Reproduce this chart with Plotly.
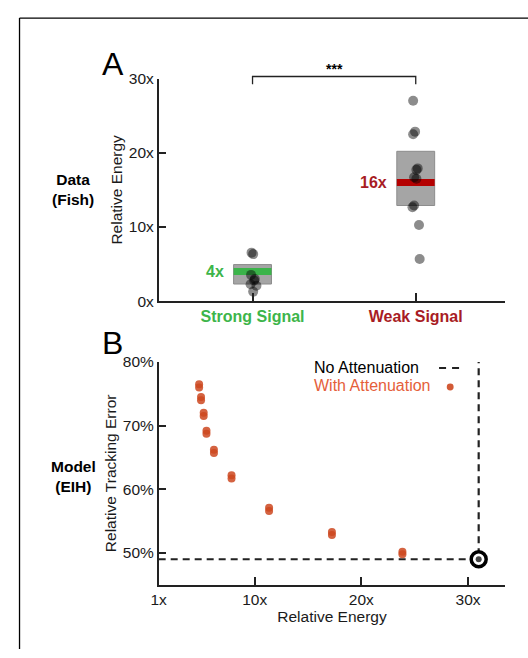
import plotly.graph_objects as go

# ---------------- Panel A: measured energy in fish ----------------
conditions = ["Strong Signal", "Weak Signal"]
condition_colors = ["#3db54a", "#a81c24"]
bar_colors = ["#3bb44a", "#b40000"]

strong_energy = [6.55, 6.35, 3.55, 3.0, 2.8, 2.3, 2.1, 1.3]
strong_jitter = [-0.006, 0.004, -0.009, 0.014, 0.010, -0.012, 0.024, 0.004]
weak_energy = [27.0, 22.85, 22.5, 17.9, 17.7, 16.7, 16.5, 12.9, 12.67, 10.27, 5.68]
weak_jitter = [-0.016, -0.004, -0.016, 0.012, 0.004, -0.010, 0.004, -0.010, -0.020, 0.020, 0.024]

box_low = [2.32, 12.9]
box_high = [4.94, 20.2]
typical_energy = [4, 16]
energy_ticks = [0, 10, 20, 30]

# ---------------- Panel B: model tracking error ----------------
model_energy = [4.79, 4.97, 5.22, 5.48, 6.18, 7.83, 11.35, 17.24, 23.85]
model_error_a = [76.5, 74.5, 72.0, 69.2, 66.2, 62.2, 57.1, 53.3, 50.2]
model_error_b = [76.0, 74.0, 71.5, 68.7, 65.7, 61.7, 56.6, 52.8, 49.8]
no_atten_energy = 31.0
no_atten_error = 49.0
error_ticks = [50, 60, 70, 80]
model_energy_ticks = [1, 10, 20, 30]

W, H = 528, 658
FONT = "Liberation Sans, Arial, Helvetica, sans-serif"
INK = "#222222"
ORANGE = "rgb(205,72,32)"


def px(x):
    return x / W


def py(y):
    return 1 - y / H


fig = go.Figure()

# --- Panel A traces ---
strong_x = [0 + j for j in strong_jitter]
weak_x = [1 + j for j in weak_jitter]
fig.add_trace(go.Scatter(
    x=strong_x + weak_x, y=strong_energy + weak_energy, mode="markers",
    marker=dict(size=10, color="rgba(0,0,0,0.45)", line=dict(width=0)),
    xaxis="x", yaxis="y", showlegend=False, hoverinfo="y"))

# --- Panel B traces ---
fig.add_trace(go.Scatter(
    x=[model_energy_ticks[0], no_atten_energy, no_atten_energy],
    y=[no_atten_error, no_atten_error, 80],
    mode="lines", line=dict(color=INK, width=2.2, dash="7px,5px"),
    xaxis="x2", yaxis="y2", showlegend=False, hoverinfo="skip"))
for errs in (model_error_a, model_error_b):
    fig.add_trace(go.Scatter(
        x=model_energy, y=errs, mode="markers",
        marker=dict(size=8, color=ORANGE, opacity=0.85, line=dict(width=0)),
        xaxis="x2", yaxis="y2", showlegend=False))
fig.add_trace(go.Scatter(
    x=[no_atten_energy], y=[no_atten_error], mode="markers",
    marker=dict(size=15, color="white", line=dict(color="black", width=3.5)),
    xaxis="x2", yaxis="y2", showlegend=False))
fig.add_trace(go.Scatter(
    x=[no_atten_energy], y=[no_atten_error], mode="markers",
    marker=dict(size=6, color="#444444"),
    xaxis="x2", yaxis="y2", showlegend=False))

shapes = []
annotations = []
half_w = 0.116

# boxes and typical-value bars
for i in range(len(conditions)):
    shapes.append(dict(type="rect", xref="x", yref="y", layer="below",
                       x0=i - half_w, x1=i + half_w, y0=box_low[i], y1=box_high[i],
                       fillcolor="#a5a5a5", line=dict(color="#8c8c8c", width=1)))
    shapes.append(dict(type="line", xref="x", yref="y", layer="below",
                       x0=i - half_w, x1=i + half_w,
                       y0=typical_energy[i], y1=typical_energy[i],
                       line=dict(color=bar_colors[i], width=7)))
    annotations.append(dict(xref="x", yref="y", x=i - half_w, y=typical_energy[i],
                            xanchor="right", yanchor="middle", xshift=-8, showarrow=False,
                            text=f"<b>{typical_energy[i]}x</b>",
                            font=dict(family=FONT, size=16, color=condition_colors[i])))

# significance bracket
shapes.append(dict(type="path", xref="x", yref="paper",
                   path=f"M 0,{py(77.3)} L 0,{py(69.3)} L 1,{py(69.3)} L 1,{py(77.3)}",
                   line=dict(color=INK, width=1.3)))
annotations.append(dict(xref="x", yref="paper", x=0.5, y=py(62), showarrow=False,
                        text="<b>***</b>", yanchor="middle",
                        font=dict(family=FONT, size=14, color="black")))

# outer frame lines
shapes.append(dict(type="line", xref="paper", yref="paper",
                   x0=px(11.7), x1=1, y0=py(9.3), y1=py(9.3),
                   line=dict(color="black", width=1.3)))
shapes.append(dict(type="line", xref="paper", yref="paper",
                   x0=px(11.7), x1=px(11.7), y0=py(9.3), y1=py(657),
                   line=dict(color="black", width=1.3)))

# legend for panel B
shapes.append(dict(type="line", xref="paper", yref="paper",
                   x0=px(437.7), x1=px(459.3), y0=py(368.5), y1=py(368.5),
                   line=dict(color=INK, width=2.2, dash="7px,6px")))
shapes.append(dict(type="circle", xref="paper", yref="paper",
                   x0=px(445.5), x1=px(452.5), y0=py(391.5), y1=py(384.5),
                   fillcolor=ORANGE, line=dict(width=0), opacity=0.9))
annotations.append(dict(xref="paper", yref="paper", x=px(309), y=py(368.5),
                        xanchor="left", yanchor="middle", showarrow=False,
                        text="No Attenuation",
                        font=dict(family=FONT, size=16, color="black")))
annotations.append(dict(xref="paper", yref="paper", x=px(309), y=py(386),
                        xanchor="left", yanchor="middle", showarrow=False,
                        text="With Attenuation",
                        font=dict(family=FONT, size=16, color="#e5603a")))

# panel letters and row labels
for letter, y in (("A", 56.7), ("B", 343.3)):
    annotations.append(dict(xref="paper", yref="paper", x=px(106.4), y=py(y),
                            xanchor="center", yanchor="middle", showarrow=False,
                            text=letter, font=dict(family=FONT, size=32, color="black")))
for label, y in (("<b>Data</b><br><b>(Fish)</b>", 185), ("<b>Model</b><br><b>(EIH)</b>", 480)):
    annotations.append(dict(xref="paper", yref="paper", x=px(66.2), y=py(y),
                            xanchor="center", yanchor="middle", showarrow=False,
                            text=label, align="center",
                            font=dict(family=FONT, size=15.5, color="black")))

axis_common = dict(showline=True, linecolor=INK, linewidth=1.5, ticks="inside",
                   ticklen=8, tickwidth=1.5, tickcolor=INK, showgrid=False,
                   zeroline=False, fixedrange=True,
                   tickfont=dict(family=FONT, size=15.5, color="#1a1a1a"))
title_font = dict(family=FONT, size=15.5, color="#1a1a1a")

fig.update_layout(
    width=W, height=H, margin=dict(l=0, r=0, t=0, b=0),
    paper_bgcolor="white", plot_bgcolor="white", showlegend=False,
    xaxis=dict(axis_common, domain=[px(153), px(505)], anchor="y",
               range=[-0.575, 1.549], tickmode="array", tickvals=[0, 1],
               ticktext=[f"<b><span style='color:{c}'>{t}</span></b>"
                         for t, c in zip(conditions, condition_colors)],
               tickfont=dict(family=FONT, size=16)),
    yaxis=dict(axis_common, domain=[py(300), py(71.4)], anchor="x",
               range=[0, 30], tickmode="array", tickvals=energy_ticks,
               ticktext=[f"{v}x" for v in energy_ticks],
               title=dict(text="Relative Energy", standoff=2, font=title_font)),
    xaxis2=dict(axis_common, domain=[px(153), px(505)], anchor="y2",
                range=[1, 33.5], tickmode="array", tickvals=model_energy_ticks,
                ticktext=[f"{v}x" for v in model_energy_ticks],
                title=dict(text="Relative Energy", standoff=0, font=title_font)),
    yaxis2=dict(axis_common, domain=[py(591), py(362.3)], anchor="x2",
                range=[45, 80], tickmode="array", tickvals=error_ticks,
                ticktext=[f"{v}%" for v in error_ticks],
                title=dict(text="Relative Tracking Error", standoff=2, font=title_font)),
    shapes=shapes, annotations=annotations,
)

fig.write_html("out.html")
